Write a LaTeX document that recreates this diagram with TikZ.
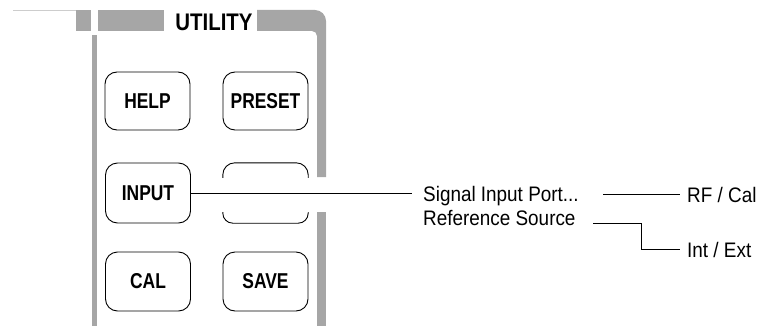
\documentclass[tikz,border=0pt]{standalone}
\usepackage{fontspec}
\setmainfont{Liberation Sans}
\newfontfamily\btnfont{Liberation Sans}[FakeStretch=0.81]
\newfontfamily\lblfont{Liberation Sans}[FakeStretch=0.9]
\newfontfamily\ttlfont{Liberation Sans}[FakeStretch=0.85]
\definecolor{panelgray}{RGB}{166,166,166}
\definecolor{thingray}{RGB}{205,205,205}
\tikzset{
  btn/.style={draw=black, line width=0.9pt, rounded corners=12pt, minimum width=85pt, inner sep=0pt,
    font=\btnfont\bfseries\fontsize{21.5}{24}\selectfont},
  lbl/.style={anchor=base west, inner sep=0pt, font=\lblfont\fontsize{21}{24}\selectfont},
  conn/.style={draw=black, line width=0.9pt},
  panel/.style={fill=panelgray, draw=none}
}
\begin{document}
\begin{tikzpicture}[x=1pt,y=-1pt]
\useasboundingbox (0,0) rectangle (759,326);
% panel frame
\draw[thingray, line width=1pt] (13,10.5) -- (76,10.5);
\fill[panel] (76,10) rectangle (91,31);
\fill[panel] (98,10) rectangle (164,31);
\fill[panel] (92,35) rectangle (97,326);
\fill[panel] (257,10) -- (315,10) arc[start angle=-90, end angle=0, radius=11] -- (326,177) -- (317,177)
   -- (317,36) arc[start angle=0, end angle=-90, radius=5] -- (257,31) -- cycle;
\fill[panel] (317,212) rectangle (326,326);
\node[font=\ttlfont\bfseries\fontsize{24}{26}\selectfont, inner sep=0pt] (title) at (214,22) {UTILITY};
% buttons
\node[btn, minimum height=58pt] (help) at (147.5,101) {HELP};
\node[btn, minimum height=58pt] (preset) at (265.5,101) {PRESET};
\node[btn, minimum height=60pt] (input) at (148,193) {INPUT};
\node[minimum width=85pt, minimum height=60pt, inner sep=0pt] (blank) at (265.5,193) {};
\draw[line width=0.9pt, rounded corners=12pt] ([yshift=-15pt]blank.north west) -- (blank.north west)
   -- (blank.north east) -- ([yshift=-15pt]blank.north east);
\draw[line width=0.9pt, rounded corners=10pt] ([yshift=11pt]blank.south west) -- (blank.south west)
   -- (blank.south east) -- ([yshift=11pt]blank.south east);
\node[btn, minimum height=59pt] (cal) at (148,281.5) {CAL};
\node[btn, minimum height=59pt] (save) at (265.5,281.5) {SAVE};
% labels
\node[lbl, inner xsep=11pt] (sig) at (412,201) {Signal Input Port...};
\node[lbl] (ref) at (423,225) {Reference Source};
\node[lbl, inner xsep=7pt] (rf) at (680,202) {RF / Cal};
\node[lbl, inner xsep=7pt] (ie) at (680,257) {Int / Ext};
\coordinate (rfstart) at (603,194);
\coordinate (refstart) at (593,223);
\coordinate (ieturn) at (641,223);
% connectors
\draw[conn] (input.east) -- (input.east -| sig.west);
\draw[conn] (rfstart) -- (rfstart -| rf.west);
\draw[conn] (refstart) -- (ieturn) |- (ie.west);
\end{tikzpicture}
\end{document}
